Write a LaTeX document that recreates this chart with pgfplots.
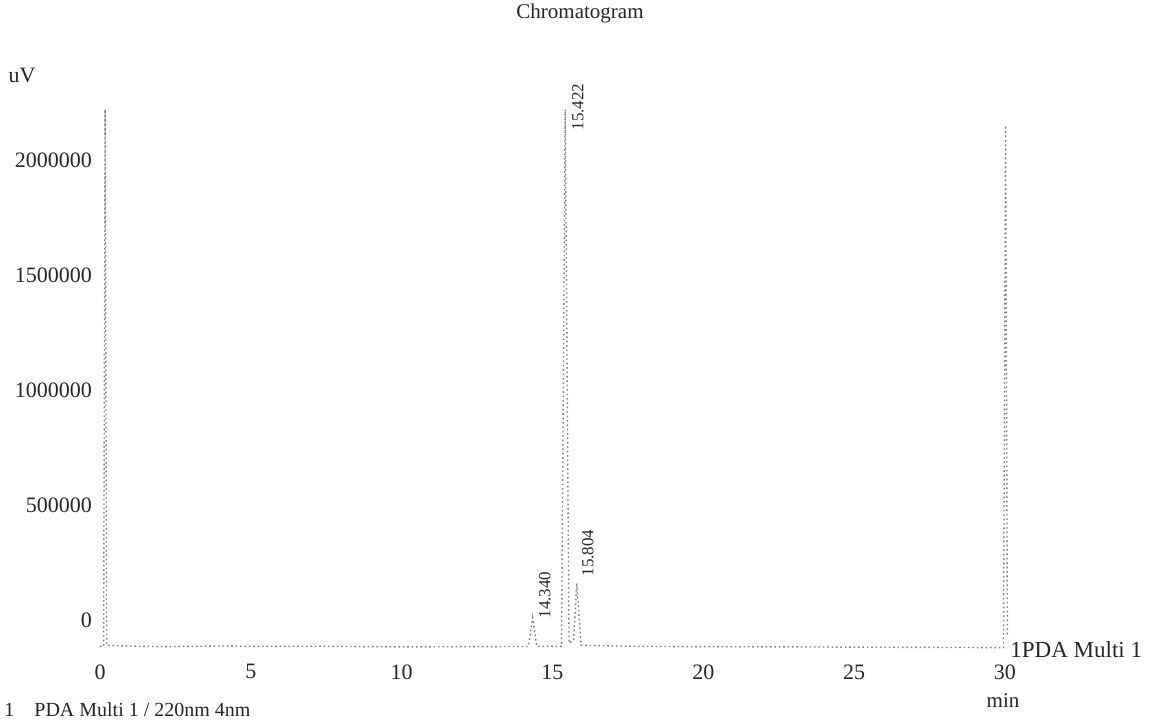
\documentclass[border=0pt]{standalone}
\usepackage{pgfplots}
\pgfplotsset{compat=1.18}
\usepackage{fontspec}
\setmainfont{Liberation Serif}
\begin{document}
\begin{tikzpicture}
\path[use as bounding box] (0,0) rectangle (577pt,360.5pt);
\begin{axis}[
  at={(50pt,33.25pt)}, anchor=south west,
  scale only axis, width=457pt, height=276pt,
  xmin=0, xmax=30.3, ymin=-150000, ymax=2250000,
  clip=false,
  xtick={0,5,10,15,20,25,30},
  ytick={0,500000,1000000,1500000,2000000},
  scaled y ticks=false,
  /pgf/number format/assume math mode=true,
  /pgf/number format/fixed,
  /pgf/number format/1000 sep={},
  axis line style={draw=none},
  major tick length=0pt,
  tick label style={font=\fontsize{11}{13}\selectfont, text=black!85},
  xticklabel style={yshift=-1.5pt},
  yticklabel style={xshift=-0.5pt},
]
\addplot[black!50, line width=0.7pt, dash pattern=on 0.8pt off 1.4pt] coordinates {
(0.00,-115000) (0.12,-115000) (0.17,2220000) (0.22,-110000) (0.6,-112000)
(2.0,-116000) (4.0,-113000) (5.0,-115000) (7.0,-114000) (10.0,-117000)
(12.0,-116000) (14.2,-115000) (14.34,10000) (14.48,-115000) (15.30,-115000)
(15.422,2220000) (15.55,-100000) (15.70,-90000) (15.804,160000) (15.95,-110000)
(18.0,-115000) (20.0,-116000) (23.0,-117000) (25.0,-118000) (27.0,-119000)
(29.5,-120000) (29.95,-120000) (30.02,2150000) (30.08,-60000) (30.12,-62000)
};
\node[rotate=90, font=\fontsize{8.5}{10}\selectfont, text=black!85] at (axis cs:15.84,2230000) {15.422};
\node[rotate=90, font=\fontsize{8.5}{10}\selectfont, text=black!85] at (axis cs:16.17,291000) {15.804};
\node[rotate=90, font=\fontsize{8.5}{10}\selectfont, text=black!85] at (axis cs:14.75,109000) {14.340};
\end{axis}
\node[font=\fontsize{10.5}{12}\selectfont, text=black!85] at (290pt,354pt) {Chromatogram};
\node[font=\fontsize{11}{13}\selectfont, text=black!85] at (11pt,323pt) {uV};
\node[font=\fontsize{11.5}{13}\selectfont, anchor=west, inner sep=0pt, text=black!85] at (505pt,35.5pt) {1PDA Multi 1};
\node[font=\fontsize{10.5}{12}\selectfont, text=black!85] at (501.5pt,10pt) {min};
\node[font=\fontsize{10}{12}\selectfont, anchor=base west, inner sep=0pt, text=black!85] at (2pt,2.2pt) {1\quad PDA Multi 1 / 220nm 4nm};
\end{tikzpicture}
\end{document}
